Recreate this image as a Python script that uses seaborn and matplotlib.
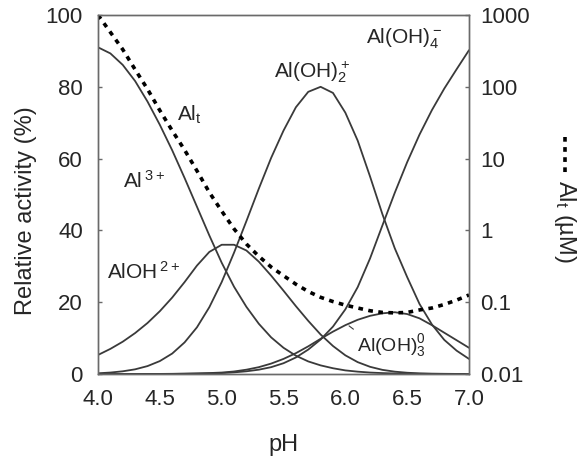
import matplotlib
matplotlib.use("Agg")
import matplotlib.pyplot as plt
import seaborn as sns
from matplotlib.lines import Line2D
from matplotlib.ticker import FixedLocator, FixedFormatter, NullLocator

# pH grid
ph = [4.0, 4.1, 4.2, 4.3, 4.4, 4.5, 4.6, 4.7, 4.8, 4.9,
      5.0, 5.1, 5.2, 5.3, 5.4, 5.5, 5.6, 5.7, 5.8, 5.9,
      6.0, 6.1, 6.2, 6.3, 6.4, 6.5, 6.6, 6.7, 6.8, 6.9, 7.0]

# relative activity of each aluminium species (%)
al3 = [91.0, 89.3, 86.1, 81.6, 75.9, 69.4, 62.3, 54.6, 46.6, 38.6,
       31.0, 24.3, 18.7, 14.0, 10.2, 7.3, 5.1, 3.5, 2.4, 1.6,
       1.0, 0.65, 0.4, 0.25, 0.15, 0.09, 0.05, 0.03, 0.02, 0.01, 0.0]
aloh = [5.3, 7.0, 9.0, 11.4, 14.2, 17.5, 21.3, 25.6, 30.2, 34.0,
        36.0, 36.0, 34.4, 31.3, 27.4, 23.2, 18.9, 14.8, 11.0, 7.8,
        5.2, 3.3, 2.0, 1.15, 0.65, 0.35, 0.18, 0.09, 0.05, 0.02, 0.01]
aloh2 = [0.2, 0.4, 0.75, 1.3, 2.2, 3.6, 5.7, 8.8, 13.0, 18.6,
         25.6, 33.8, 42.6, 51.6, 60.2, 67.8, 74.3, 78.6, 80.0, 78.3,
         72.8, 65.0, 55.0, 44.5, 35.0, 27.0, 19.5, 13.8, 9.5, 6.5, 4.2]
aloh3 = [0.0, 0.0, 0.0, 0.0, 0.01, 0.02, 0.05, 0.1, 0.17, 0.26,
         0.4, 0.7, 1.2, 1.9, 2.9, 4.2, 5.8, 7.7, 9.8, 11.8,
         13.6, 15.1, 16.2, 16.9, 17.2, 16.7, 15.5, 13.6, 11.5, 9.4, 7.3]
aloh4 = [0.0, 0.0, 0.0, 0.0, 0.0, 0.01, 0.02, 0.05, 0.09, 0.15,
         0.25, 0.45, 0.75, 1.2, 1.9, 3.0, 4.6, 6.8, 9.6, 13.2,
         18.0, 24.2, 32.2, 41.4, 50.5, 59.0, 66.7, 73.5, 79.5, 84.9, 90.2]

# total dissolved aluminium (µM)
al_total = [1000, 575, 331, 174, 93, 46.8, 24.5, 13.2, 6.76, 3.39,
            1.86, 1.05, 0.646, 0.437, 0.309, 0.234, 0.178, 0.141, 0.117, 0.102,
            0.091, 0.083, 0.076, 0.072, 0.071, 0.072, 0.078, 0.083, 0.093, 0.107, 0.126]

right_ticks = [0.01, 0.1, 1, 10, 100, 1000]
right_labels = ["0.01", "0.1", "1", "10", "100", "1000"]

sns.set_theme(style="white")
plt.rcParams["font.family"] = ["Liberation Sans", "DejaVu Sans"]
plt.rcParams["mathtext.default"] = "regular"

line_c = "#3a3a3a"
axis_c = "#6a6a6a"
text_c = "#262626"
tick_fs = 16
label_fs = 17
species_fs = 15

fig = plt.figure(figsize=(5.78, 4.62), dpi=100)
ax = fig.add_axes([0.1696, 0.1905, 0.6418, 0.777])
ax2 = ax.twinx()

for vals in (al3, aloh, aloh2, aloh3, aloh4):
    sns.lineplot(x=ph, y=vals, ax=ax, color=line_c, linewidth=1.3)

sns.lineplot(x=ph, y=al_total, ax=ax2, color="black", linewidth=2.6,
             linestyle=(0, (1.3, 1.5)))

ax.set_xlim(4.0, 7.0)
ax.set_ylim(0, 100)
ax.set_xticks([4.0, 4.5, 5.0, 5.5, 6.0, 6.5, 7.0])
ax.set_xticklabels(["4.0", "4.5", "5.0", "5.5", "6.0", "6.5", "7.0"])
ax.set_yticks([0, 20, 40, 60, 80, 100])

ax2.set_yscale("log")
ax2.set_ylim(0.01, 1000)
ax2.yaxis.set_major_locator(FixedLocator(right_ticks))
ax2.yaxis.set_major_formatter(FixedFormatter(right_labels))
ax2.yaxis.set_minor_locator(NullLocator())

for a in (ax, ax2):
    for s in a.spines.values():
        s.set_color(axis_c)
        s.set_linewidth(1.0)
        s.set_visible(True)
ax.tick_params(axis="both", direction="in", length=3, width=1, color=axis_c,
               labelsize=tick_fs, labelcolor=text_c)
ax.tick_params(axis="y", pad=11)
ax.tick_params(axis="x", pad=11)
ax2.tick_params(axis="y", direction="in", length=3, width=1, color=axis_c,
                labelsize=tick_fs, labelcolor=text_c, pad=8)

ax.set_xlabel("pH", fontsize=label_fs, color=text_c, labelpad=17)
ax.set_ylabel("Relative activity (%)", fontsize=label_fs, color=text_c)
ax.yaxis.set_label_coords(-0.165, 0.454)

# species labels
lab = dict(fontsize=species_fs, color=text_c)
ax.text(4.64, 70.5, "Al$_t$", ha="left", va="baseline", **lab)
ax.text(4.20, 52.0, "Al$^{\\,3+}$", ha="left", va="baseline", **lab)
ax.text(4.07, 26.5, "AlOH$^{\\,2+}$", ha="left", va="baseline", **lab)
ax.text(5.73, 82.5, "Al(OH)$_2^+$", ha="center", va="baseline", **lab)
ax.text(6.48, 92.2, "Al(OH)$_4^-$", ha="center", va="baseline", **lab)
ax.annotate("Al(OH)$_3^0$", xy=(6.03, 13.4), xytext=(6.37, 6.5),
            ha="center", va="baseline", fontsize=14, color=text_c,
            arrowprops=dict(arrowstyle="-", color=line_c, lw=0.8,
                            shrinkA=0, shrinkB=0,
                            relpos=(0.0, 1.0)))

# right-hand axis title with its dotted line key
fig.add_artist(Line2D([0.9775, 0.9775], [0.7035, 0.6255], transform=fig.transFigure,
                      color="black", linewidth=2.6, linestyle=(0, (1.3, 1.5))))
fig.text(0.9775, 0.5216, "Al$_t$ (µM)", rotation=270, ha="center", va="center",
         fontsize=label_fs, color=text_c)

fig.savefig("out.png", dpi=100, facecolor="white")
